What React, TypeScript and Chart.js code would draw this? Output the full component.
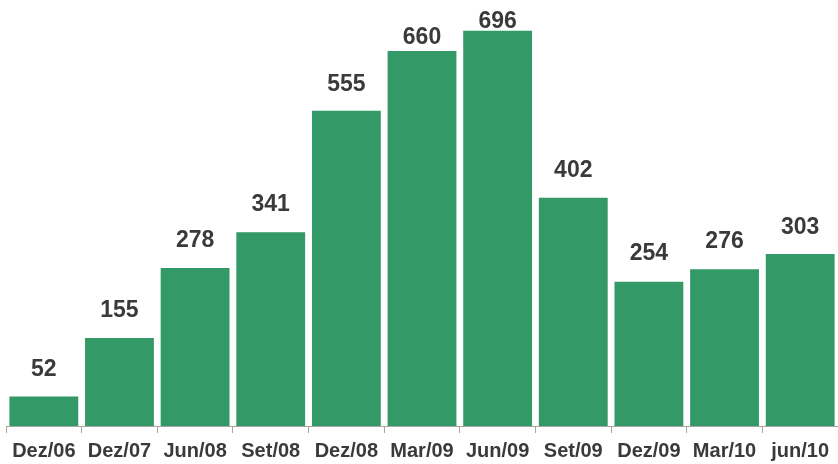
import React, { useEffect, useRef } from "react";
import { Chart, registerables } from "chart.js";

Chart.register(...registerables);

const categories = ["Dez/06", "Dez/07", "Jun/08", "Set/08", "Dez/08", "Mar/09", "Jun/09", "Set/09", "Dez/09", "Mar/10", "jun/10"];
const values = [52, 155, 278, 341, 555, 660, 696, 402, 254, 276, 303];

// style: gap between bar top and label baseline (px)
const labelGaps = [20, 21, 21, 21, 20, 7, 3, 21, 22, 21, 20];

const BAR_COLOR = "#339966";
const TEXT_COLOR = "#3a3a3a";
const AXIS_COLOR = "#a6a6a6";
const FONT = "'Liberation Sans', Arial, sans-serif";

const valueLabels = {
  id: "valueLabels",
  afterDatasetsDraw(chart: any) {
    const ctx = chart.ctx;
    const meta = chart.getDatasetMeta(0);
    ctx.save();
    ctx.font = `bold 23px ${FONT}`;
    ctx.fillStyle = TEXT_COLOR;
    ctx.textAlign = "center";
    ctx.textBaseline = "alphabetic";
    meta.data.forEach((bar: any, i: number) => {
      ctx.fillText(String(values[i]), bar.x, bar.y - labelGaps[i]);
    });
    ctx.restore();
  },
};

export default function App() {
  const ref = useRef<HTMLCanvasElement>(null);
  useEffect(() => {
    if (!ref.current) return;
    const chart = new Chart(ref.current, {
      type: "bar",
      data: {
        labels: categories,
        datasets: [
          {
            data: values,
            backgroundColor: BAR_COLOR,
            borderWidth: 0,
            categoryPercentage: 1,
            barPercentage: 0.91,
          },
        ],
      },
      options: {
        responsive: false,
        animation: false,
        layout: { padding: { left: 6, right: 0, top: 0, bottom: -5 } },
        plugins: { legend: { display: false }, tooltip: { enabled: false } },
        scales: {
          x: {
            grid: {
              display: true,
              drawOnChartArea: false,
              drawTicks: true,
              tickLength: 7,
              color: AXIS_COLOR,
              offset: true,
            },
            border: { display: true, color: AXIS_COLOR, width: 1 },
            ticks: {
              color: TEXT_COLOR,
              font: { family: FONT, size: 20, weight: "bold" },
              padding: 6,
              maxRotation: 0,
              autoSkip: false,
            },
          },
          y: { display: false, min: 0, max: 750 },
        },
      },
      plugins: [valueLabels],
    });
    return () => chart.destroy();
  }, []);
  return (
    <div style={{ position: "absolute", left: 0, top: 0, width: 838, height: 464, background: "#fff" }}>
      <canvas ref={ref} width={838} height={464} />
    </div>
  );
}
